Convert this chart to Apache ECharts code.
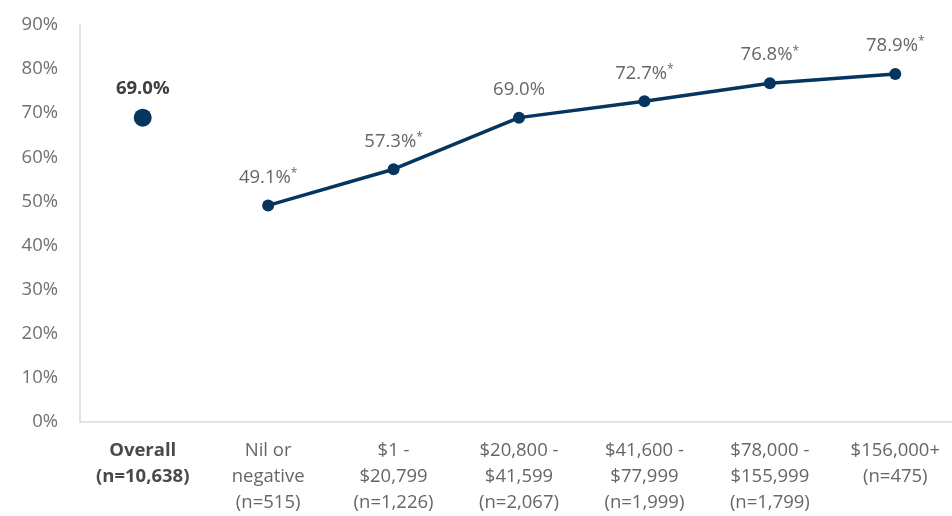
<!DOCTYPE html>
<html>
<head>
<meta charset="utf-8">
<script src="https://cdn.jsdelivr.net/npm/echarts@6/dist/echarts.min.js"></script>
<style>
  html, body { margin: 0; padding: 0; background: #fff; overflow: hidden; }
  #chart { width: 958px; height: 516px; }
</style>
</head>
<body>
<div id="chart"></div>
<script>
// Income groups shown along the x axis
const categories = [
  'Overall\n(n=10,638)',
  'Nil or\nnegative\n(n=515)',
  '$1 -\n$20,799\n(n=1,226)',
  '$20,800 -\n$41,599\n(n=2,067)',
  '$41,600 -\n$77,999\n(n=1,999)',
  '$78,000 -\n$155,999\n(n=1,799)',
  '$156,000+\n(n=475)'
];
// Overall rate (single point)
const overallValue = [69.0];
// Rate by income group
const groupValues = [49.1, 57.3, 69.0, 72.7, 76.8, 78.9];
// Significant difference from overall
const groupSignificant = [true, true, false, true, true, true];
// Y axis ticks
const yTicks = [0, 10, 20, 30, 40, 50, 60, 70, 80, 90];

const navy = '#06365f';
const fontFamily = '"Open Sans", "Noto Sans", sans-serif';

const overallData = categories.map((c, i) => (i === 0 ? overallValue[0] : '-'));
const groupData = categories.map((c, i) => (i === 0 ? '-' : groupValues[i - 1]));

const chart = echarts.init(document.getElementById('chart'), null, { renderer: 'canvas' });
chart.setOption({
  animation: false,
  grid: { left: 80, right: 0, top: 25, bottom: 93, containLabel: false },
  xAxis: {
    type: 'category',
    data: categories,
    boundaryGap: true,
    axisLine: { show: true, lineStyle: { color: '#d9d9d9', width: 1.5 } },
    axisTick: { show: false },
    axisLabel: {
      interval: 0,
      margin: 16,
      color: '#666666',
      fontFamily: fontFamily,
      fontSize: 18.5,
      lineHeight: 26,
      formatter: (v, i) => (i === 0 ? '{b|' + v.split('\n').join('}\n{b|') + '}' : v),
      rich: {
        b: { fontWeight: 'bold', color: '#4a4a4a', fontFamily: fontFamily, fontSize: 18.5, lineHeight: 26 }
      }
    },
    splitLine: { show: false }
  },
  yAxis: {
    type: 'value',
    min: yTicks[0],
    max: yTicks[yTicks.length - 1],
    interval: 10,
    axisLine: { show: true, lineStyle: { color: '#d9d9d9', width: 1.5 } },
    axisTick: { show: false },
    splitLine: { show: false },
    axisLabel: {
      margin: 22,
      color: '#707070',
      fontFamily: fontFamily,
      fontSize: 18.5,
      formatter: v => v + '%'
    }
  },
  series: [
    {
      type: 'line',
      data: overallData,
      symbol: 'circle',
      symbolSize: 18,
      itemStyle: { color: navy },
      lineStyle: { width: 0 },
      label: {
        show: true,
        position: 'top',
        distance: 10,
        color: '#404040',
        fontFamily: fontFamily,
        fontSize: 18.5,
        fontWeight: 'bold',
        formatter: p => p.value.toFixed(1) + '%'
      }
    },
    {
      type: 'line',
      data: groupData,
      symbol: 'circle',
      symbolSize: 12,
      itemStyle: { color: navy },
      lineStyle: { color: navy, width: 3.5 },
      label: {
        show: true,
        position: 'top',
        distance: 12,
        color: '#666666',
        fontFamily: fontFamily,
        fontSize: 18.5,
        formatter: p => {
          const sig = groupSignificant[p.dataIndex - 1];
          return '{v|' + p.value.toFixed(1) + '%}' + (sig ? '{s|*}' : '');
        },
        rich: {
          v: { color: '#666666', fontFamily: fontFamily, fontSize: 18.5 },
          s: { color: '#666666', fontFamily: fontFamily, fontSize: 12, verticalAlign: 'top', padding: [0, 0, 8, 0] }
        }
      }
    }
  ]
});
</script>
</body>
</html>
